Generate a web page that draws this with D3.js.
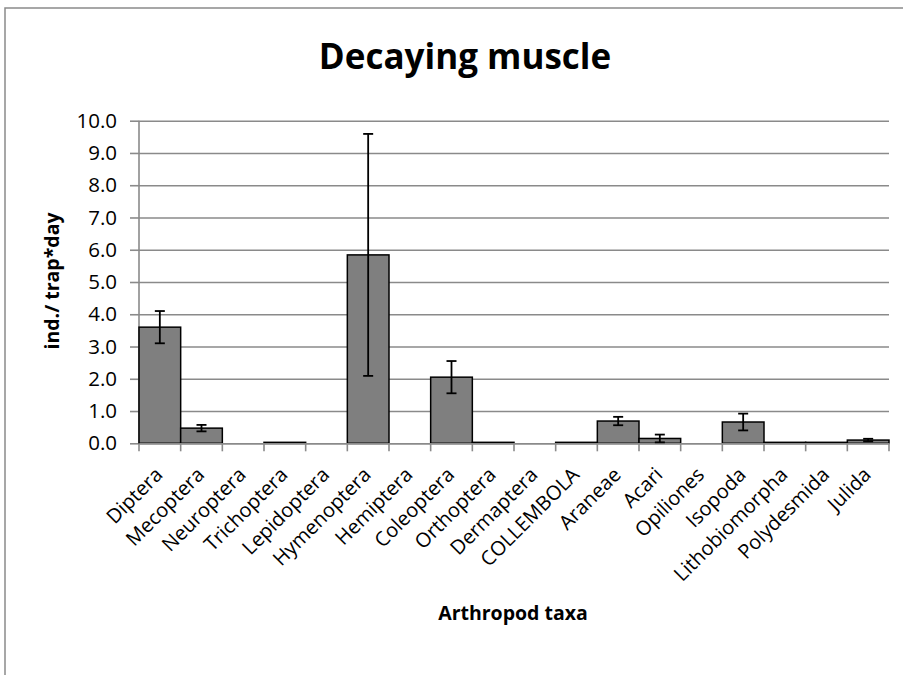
<!DOCTYPE html>
<html>
<head>
<meta charset="utf-8">
<script src="https://cdn.jsdelivr.net/npm/d3@7"></script>
<style>
  body { margin: 0; background: #fff; }
  svg { display: block; }
</style>
</head>
<body>
<svg id="chart" width="903" height="675"></svg>
<script>
var taxa = ["Diptera", "Mecoptera", "Neuroptera", "Trichoptera", "Lepidoptera", "Hymenoptera",
    "Hemiptera", "Coleoptera", "Orthoptera", "Dermaptera", "COLLEMBOLA", "Araneae", "Acari",
    "Opiliones", "Isopoda", "Lithobiomorpha", "Polydesmida", "Julida"];
var means = [3.6, 0.47, 0, 0.03, 0, 5.84, 0, 2.05, 0.03, 0, 0.03, 0.69, 0.15, 0, 0.66, 0.03, 0.03, 0.1];
var errs = [0.5, 0.1, 0, 0, 0, 3.75, 0, 0.5, 0, 0, 0, 0.13, 0.12, 0, 0.26, 0, 0, 0.04];
var yTicks = [0, 1, 2, 3, 4, 5, 6, 7, 8, 9, 10];

var svg = d3.select("#chart");
var font = "'Open Sans', sans-serif";
var gridColor = "#8a8a8a";

// chart frame (goes past the window on right/bottom)
svg.append("rect")
    .attr("x", 5).attr("y", 8)
    .attr("width", 920).attr("height", 700)
    .attr("fill", "#fff")
    .attr("stroke", "#8a8a8a")
    .attr("stroke-width", 1.5);

var x = d3.scaleBand().domain(taxa).range([139, 889]).padding(0);
var y = d3.scaleLinear().domain([0, 10]).range([443.3, 120.7]);

// gridlines + y ticks
var yAxis = svg.append("g")
    .attr("transform", "translate(139,0)")
    .call(d3.axisLeft(y).tickValues(yTicks).tickSize(9).tickFormat(d3.format(".1f")));
yAxis.select(".domain").remove();
yAxis.selectAll(".tick line").attr("stroke", gridColor).attr("stroke-width", 1.6);
yAxis.selectAll(".tick text")
    .attr("x", -22)
    .attr("font-family", font).attr("font-size", 20.5).attr("fill", "#000");
yAxis.selectAll(".tick").append("line")
    .attr("x1", 0).attr("x2", 750)
    .attr("stroke", gridColor).attr("stroke-width", 1.6);

svg.append("line")
    .attr("x1", 139).attr("x2", 139)
    .attr("y1", y(10)).attr("y2", y(0))
    .attr("stroke", gridColor).attr("stroke-width", 1.6);

// bars
svg.append("g").selectAll("rect")
    .data(taxa)
    .enter().append("rect")
    .attr("x", function(d) { return x(d); })
    .attr("width", x.bandwidth())
    .attr("y", function(d, i) { return y(means[i]); })
    .attr("height", function(d, i) { return y(0) - y(means[i]); })
    .attr("fill", "#7f7f7f")
    .attr("stroke", function(d, i) { return means[i] > 0 ? "#000" : "none"; })
    .attr("stroke-width", 1.5);

// x axis
var xAxis = svg.append("g")
    .attr("transform", "translate(0," + y(0) + ")")
    .call(d3.axisBottom(x).tickSize(0).tickFormat(""));
xAxis.select(".domain").attr("stroke", gridColor).attr("stroke-width", 1.6);
xAxis.selectAll(".tick").remove();

var edges = taxa.map(function(d) { return x(d); }).concat([x.range()[1]]);
svg.append("g").selectAll("line")
    .data(edges)
    .enter().append("line")
    .attr("x1", function(d) { return d; }).attr("x2", function(d) { return d; })
    .attr("y1", y(0)).attr("y2", y(0) + 8)
    .attr("stroke", gridColor).attr("stroke-width", 1.6);

// error bars
var eb = svg.append("g").selectAll("g")
    .data(taxa.filter(function(d, i) { return errs[i] > 0; }))
    .enter().append("g")
    .attr("stroke", "#000").attr("stroke-width", 1.8);
eb.each(function(d) {
    var i = taxa.indexOf(d);
    var cx = x(d) + x.bandwidth() / 2;
    var g = d3.select(this);
    g.append("line").attr("x1", cx).attr("x2", cx)
        .attr("y1", y(means[i] + errs[i])).attr("y2", y(means[i] - errs[i]));
    g.append("line").attr("x1", cx - 5).attr("x2", cx + 5)
        .attr("y1", y(means[i] + errs[i])).attr("y2", y(means[i] + errs[i]));
    g.append("line").attr("x1", cx - 5).attr("x2", cx + 5)
        .attr("y1", y(means[i] - errs[i])).attr("y2", y(means[i] - errs[i]));
});

// category labels
svg.append("g").selectAll("text")
    .data(taxa)
    .enter().append("text")
    .attr("transform", function(d) {
        return "translate(" + (x(d) + x.bandwidth() / 2 + 4) + "," + 476 + ") rotate(-45)";
    })
    .attr("text-anchor", "end")
    .attr("font-family", font).attr("font-size", 20).attr("fill", "#000")
    .text(function(d) { return d; });

// titles
svg.append("text")
    .attr("x", 465).attr("y", 69)
    .attr("text-anchor", "middle")
    .attr("font-family", font).attr("font-weight", "bold").attr("font-size", 35)
    .text("Decaying muscle");

svg.append("text")
    .attr("x", 513).attr("y", 620)
    .attr("text-anchor", "middle")
    .attr("font-family", font).attr("font-weight", "bold").attr("font-size", 19.5)
    .text("Arthropod taxa");

svg.append("text")
    .attr("transform", "translate(59,281) rotate(-90)")
    .attr("text-anchor", "middle")
    .attr("font-family", font).attr("font-weight", "bold").attr("font-size", 19.5)
    .text("ind./ trap*day");
</script>
</body>
</html>
